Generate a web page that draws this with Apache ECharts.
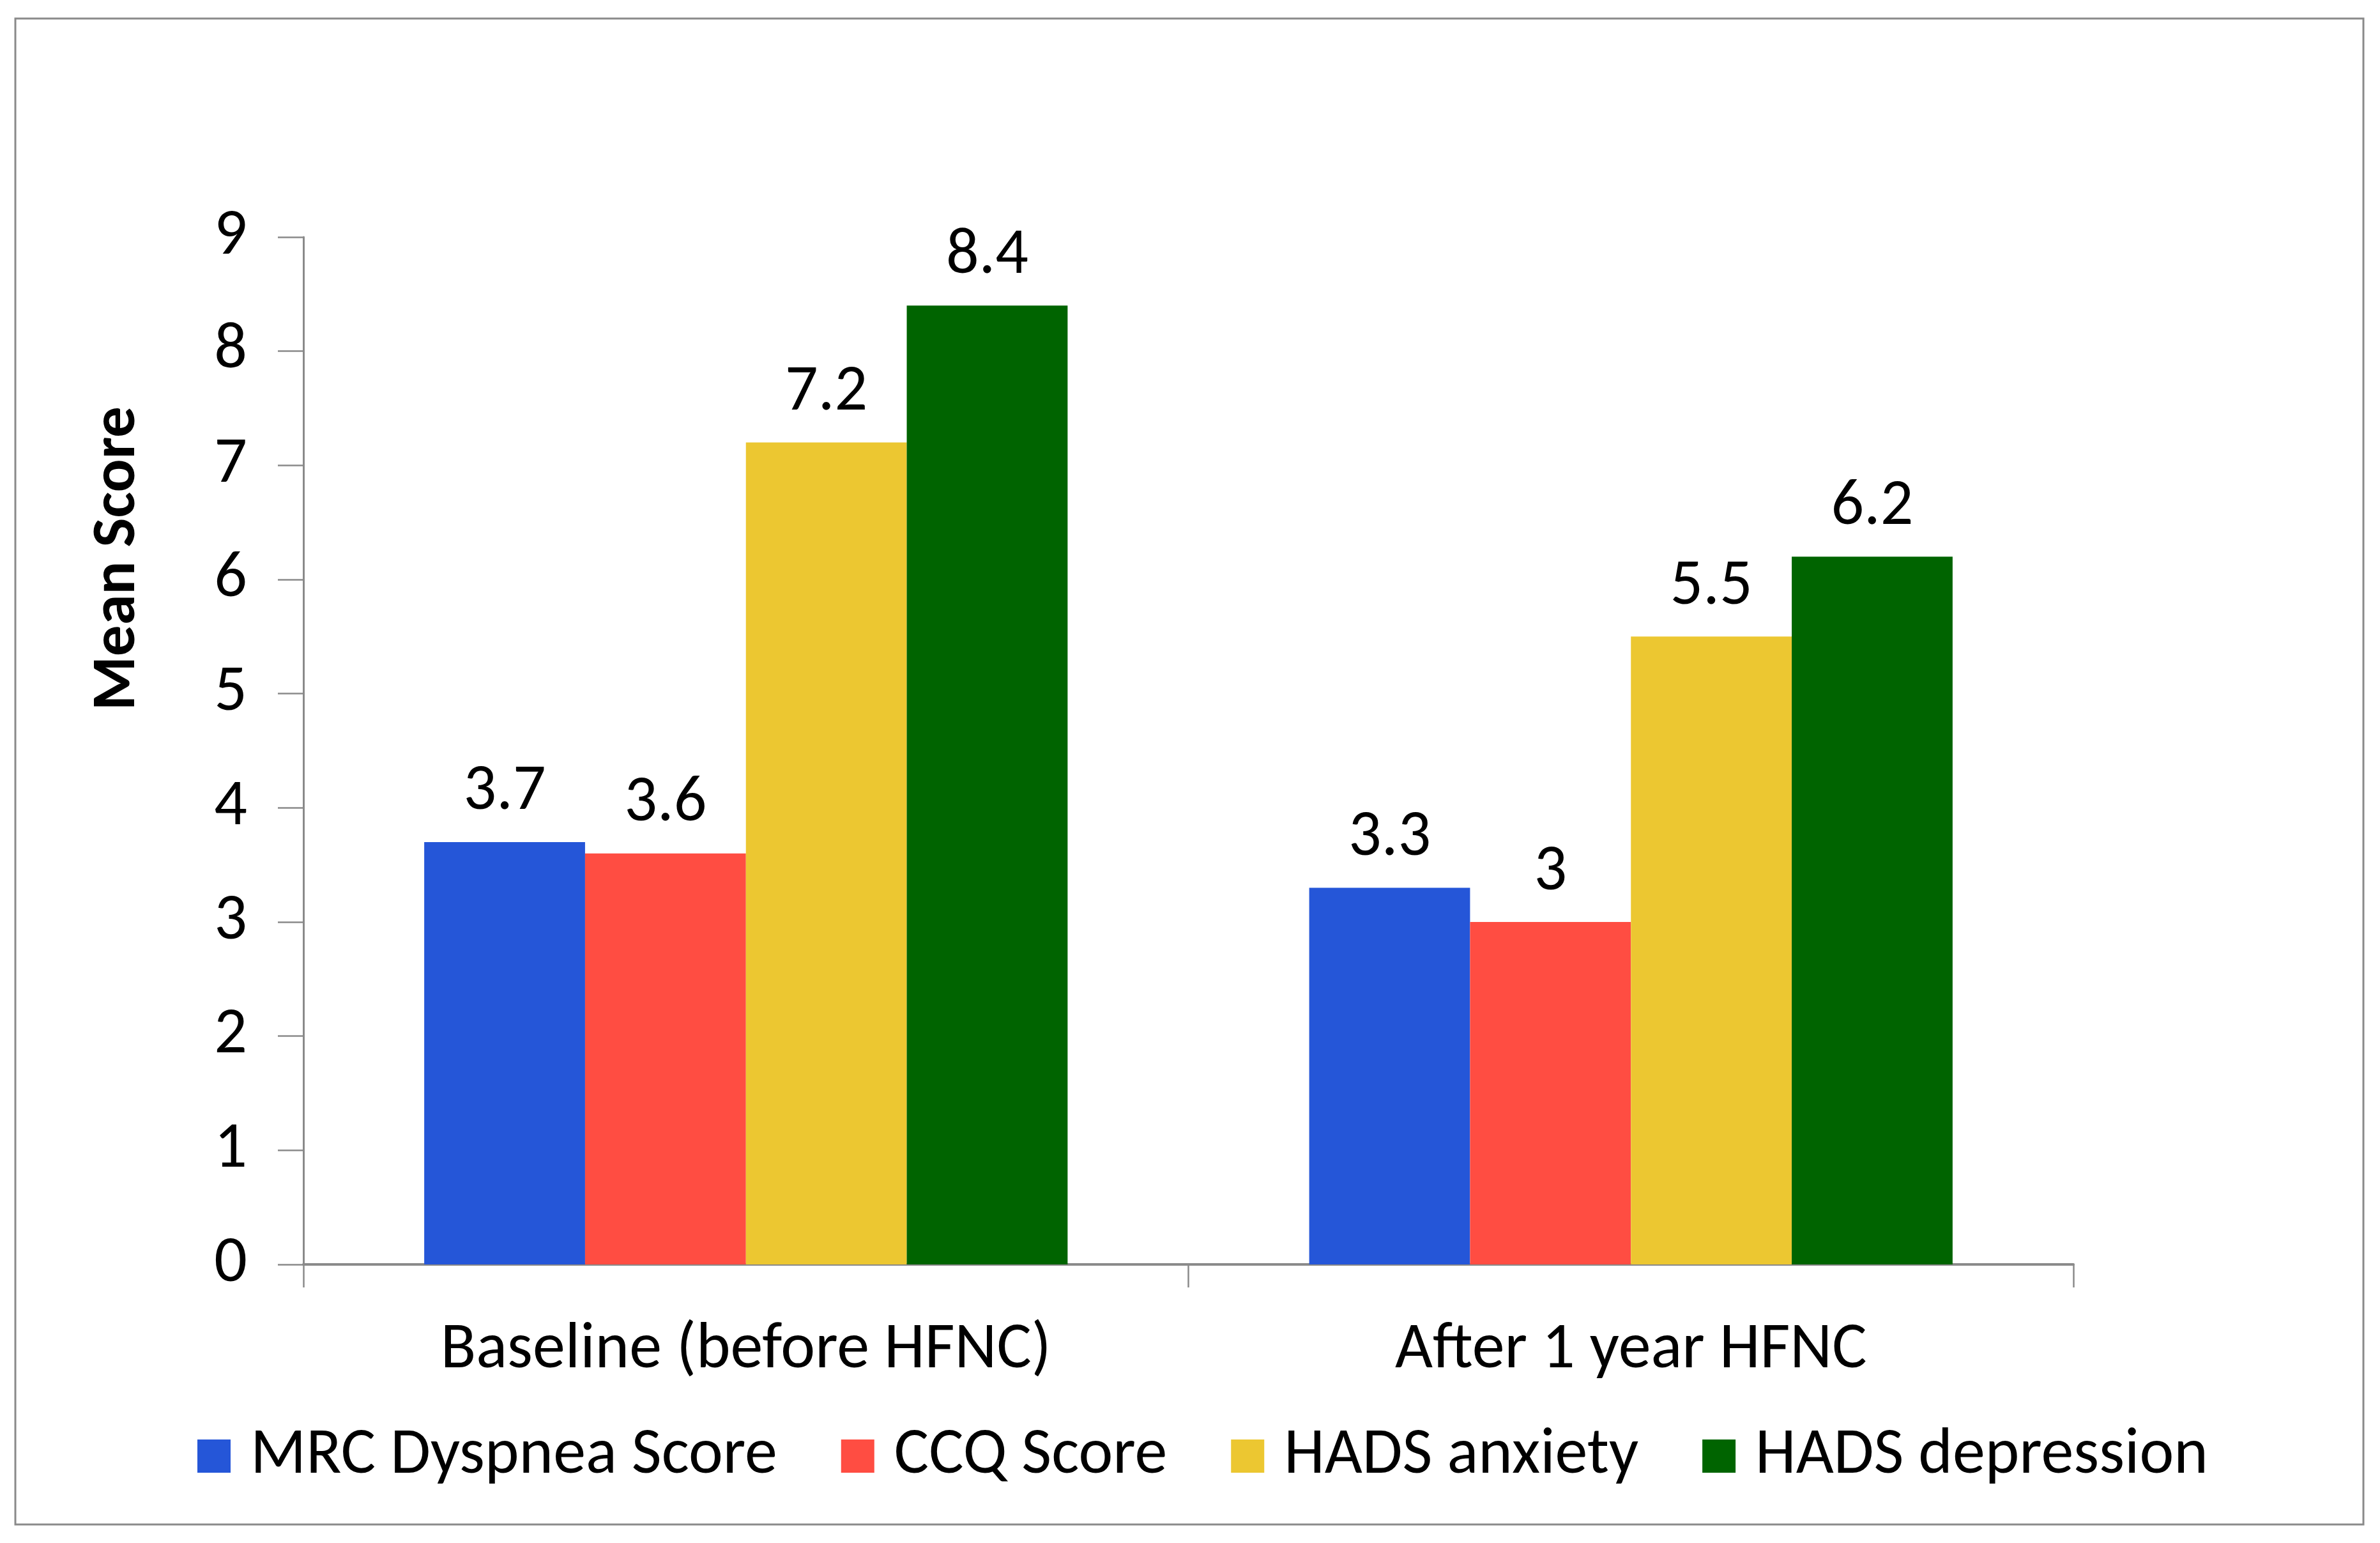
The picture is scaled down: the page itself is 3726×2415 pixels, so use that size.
<!DOCTYPE html>
<html>
<head>
<meta charset="utf-8">
<script src="https://cdn.jsdelivr.net/npm/echarts@6/dist/echarts.min.js"></script>
<style>
html,body{margin:0;padding:0;background:#fff;}
#chart{width:3726px;height:2415px;}
</style>
</head>
<body>
<div id="chart"></div>
<script>
const categories = ['Baseline (before HFNC)', 'After 1 year HFNC'];
const seriesNames = ['MRC Dyspnea Score', 'CCQ Score', 'HADS anxiety', 'HADS depression'];
const mrcDyspnea = [3.7, 3.3];
const ccqScore = [3.6, 3.0];
const hadsAnxiety = [7.2, 5.5];
const hadsDepression = [8.4, 6.2];
const seriesColors = ['#2556D8', '#FF4D42', '#ECC731', '#006400'];
const yTitle = 'Mean Score';

const FONT = 'Calibri, Carlito, Lato, sans-serif';
// size font so the category label width matches the reference
const ctx = document.createElement('canvas').getContext('2d');
ctx.font = '100px ' + FONT;
const w = ctx.measureText(categories[0]).width;
const fs = Math.round(100 * 957 / w);

const values = [mrcDyspnea, ccqScore, hadsAnxiety, hadsDepression];

const chart = echarts.init(document.getElementById('chart'));
chart.setOption({
  backgroundColor: '#fff',
  animation: false,
  textStyle: { fontFamily: FONT },
  grid: { left: 475, right: 480, top: 371, bottom: 436, containLabel: false },
  graphic: [
    { type: 'rect', shape: { x: 24, y: 29, width: 3676, height: 2357 },
      style: { fill: 'none', stroke: '#8a8a8a', lineWidth: 3 }, z: -1 },
    { type: 'text', x: 186, y: 874, rotation: Math.PI / 2,
      style: { text: yTitle, font: 'bold ' + Math.round(fs * 0.95) + 'px ' + FONT,
        fill: '#000', textAlign: 'center', textVerticalAlign: 'middle' } }
  ],
  legend: {
    left: 304, top: 2274 - 60, itemWidth: 52, itemHeight: 52, itemGap: 100,
    icon: 'rect',
    textStyle: { fontSize: fs, color: '#000', fontFamily: FONT, padding: [0, 0, 0, 26], lineHeight: 120 },
    data: seriesNames
  },
  xAxis: {
    type: 'category', data: categories,
    axisLine: { lineStyle: { color: '#8a8a8a', width: 4 } },
    axisTick: { show: true, length: 36, alignWithLabel: false, lineStyle: { color: '#8a8a8a', width: 2.5 } },
    axisLabel: { fontSize: fs, color: '#000', margin: 84, fontFamily: FONT }
  },
  yAxis: {
    type: 'value', min: 0, max: 9, interval: 1,
    axisLine: { show: true, lineStyle: { color: '#8a8a8a', width: 3 } },
    axisTick: { show: true, length: 40, lineStyle: { color: '#8a8a8a', width: 2.5 } },
    splitLine: { show: false },
    axisLabel: { fontSize: fs, color: '#000', margin: 88, fontFamily: FONT }
  },
  series: seriesNames.map((n, i) => ({
    name: n, type: 'bar', data: values[i],
    barGap: '0%', barCategoryGap: '27.3%',
    itemStyle: { color: seriesColors[i] },
    label: { show: true, position: 'top', distance: 26, fontSize: fs, color: '#000', fontFamily: FONT }
  }))
});
</script>
</body>
</html>
